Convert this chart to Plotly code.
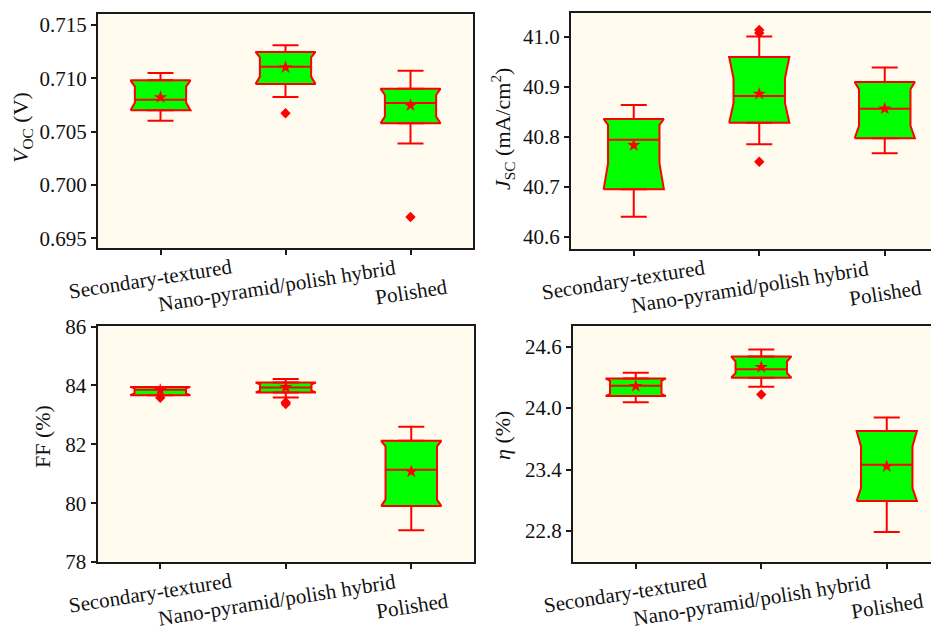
import plotly.graph_objects as go

# ---------------- data ----------------
categories = ["Secondary-textured", "Nano-pyramid/polish hybrid", "Polished"]

voc_q1 = [0.70700, 0.70947, 0.70578]
voc_med = [0.70800, 0.71109, 0.70769]
voc_q3 = [0.70981, 0.71247, 0.70903]
voc_lo = [0.70603, 0.70825, 0.70388]
voc_hi = [0.71050, 0.71309, 0.71072]
voc_mean = [0.70822, 0.71103, 0.70747]
voc_notch_lo = [0.70772, 0.71016, 0.70641]
voc_notch_hi = [0.70922, 0.71197, 0.70844]
voc_out = [[], [0.70672], [0.69700]]

jsc_q1 = [40.695, 40.828, 40.797]
jsc_med = [40.794, 40.8815, 40.856]
jsc_q3 = [40.8356, 40.9594, 40.9095]
jsc_lo = [40.6406, 40.785, 40.767]
jsc_hi = [40.8636, 41.000, 40.938]
jsc_mean = [40.783, 40.8855, 40.856]
jsc_notch_lo = [40.747, 40.867, 40.8216]
jsc_notch_hi = [40.8236, 40.9168, 40.8948]
jsc_out = [[], [41.013, 41.007, 40.750], []]

ff_q1 = [83.67, 83.76, 79.90]
ff_med = [83.85, 83.93, 81.134]
ff_q3 = [83.95, 84.10, 82.12]
ff_lo = [83.67, 83.59, 79.075]
ff_hi = [83.95, 84.22, 82.594]
ff_mean = [83.84, 83.94, 81.07]
ff_notch_lo = [83.73, 83.82, 80.12]
ff_notch_hi = [83.90, 84.04, 81.93]
ff_out = [[83.58], [83.43, 83.37], []]

eta_q1 = [24.116, 24.295, 23.093]
eta_med = [24.217, 24.379, 23.447]
eta_q3 = [24.288, 24.503, 23.775]
eta_lo = [24.057, 24.207, 22.790]
eta_hi = [24.343, 24.571, 23.908]
eta_mean = [24.213, 24.399, 23.430]
eta_notch_lo = [24.139, 24.340, 23.219]
eta_notch_hi = [24.265, 24.454, 23.625]
eta_out = [[], [24.132], []]

# ---------------- style ----------------
OFF = 8                      # page body margin in the browser
W, H = 939 - OFF, 630 - OFF  # figure fills the visible window exactly
RED = "#FF0000"
GREEN = "#00FF00"
BG = "#FFFCEF"
AXC = "#1a1a1a"
FONT = "Liberation Serif"
HALF = 0.24      # box half width (category units)
NARROW = 0.205   # notch half width
CAP = 13         # cap half width (px)


def fx(px):
    return (px - OFF) / W


def fy(py):
    return 1 - (py - OFF) / H


panels = [
    dict(n="", q1=voc_q1, med=voc_med, q3=voc_q3, lo=voc_lo, hi=voc_hi, mean=voc_mean,
         nlo=voc_notch_lo, nhi=voc_notch_hi, out=voc_out,
         xdom=[fx(98), fx(473)], xr=[-0.5, 2.5], ydom=[fy(248), fy(14)],
         yr=[0.69409, 0.71603], tick0=0.695, dtick=0.005, fmt=".3f", mirror=True,
         title="<i>V</i><sub>OC</sub> (V)", tx=22, ty=128),
    dict(n="2", q1=jsc_q1, med=jsc_med, q3=jsc_q3, lo=jsc_lo, hi=jsc_hi, mean=jsc_mean,
         nlo=jsc_notch_lo, nhi=jsc_notch_hi, out=jsc_out,
         xdom=[fx(571), 1.0], xr=[-0.5, -0.5 + (939 - 571) / 125.5], ydom=[fy(249), fy(13)],
         yr=[40.576, 41.047], tick0=40.6, dtick=0.1, fmt=".1f", mirror=False,
         title="<i>J</i><sub>SC</sub> (mA/cm<sup>2</sup>)", tx=503, ty=129),
    dict(n="3", q1=ff_q1, med=ff_med, q3=ff_q3, lo=ff_lo, hi=ff_hi, mean=ff_mean,
         nlo=ff_notch_lo, nhi=ff_notch_hi, out=ff_out,
         xdom=[fx(97.5), fx(474)], xr=[-0.5, 2.5], ydom=[fy(562), fy(326)],
         yr=[78, 86.02], tick0=78, dtick=2, fmt="d", mirror=True,
         title="FF (%)", tx=42, ty=437),
    dict(n="4", q1=eta_q1, med=eta_med, q3=eta_q3, lo=eta_lo, hi=eta_hi, mean=eta_mean,
         nlo=eta_notch_lo, nhi=eta_notch_hi, out=eta_out,
         xdom=[fx(573), 1.0], xr=[-0.5, -0.5 + (939 - 573) / 125.5], ydom=[fy(562), fy(326)],
         yr=[22.498, 24.80], tick0=22.8, dtick=0.6, fmt=".1f", mirror=False,
         title="<i>η</i> (%)", tx=502, ty=436),
]

label_dx = [-10, -9, 1]
label_dy = [31, 38, 44]

fig = go.Figure()
annotations = []
layout_axes = {}

for p in panels:
    xa, ya = "x" + p["n"], "y" + p["n"]
    for i in range(len(categories)):
        # notched box outline
        bx = [i - HALF, i + HALF, i + NARROW, i + NARROW, i + HALF, i - HALF, i - NARROW, i - NARROW, i - HALF]
        by = [p["q1"][i], p["q1"][i], p["nlo"][i], p["nhi"][i], p["q3"][i], p["q3"][i],
              p["nhi"][i], p["nlo"][i], p["q1"][i]]
        fig.add_trace(go.Scatter(x=bx, y=by, mode="lines", fill="toself", fillcolor=GREEN,
                                 line=dict(color=RED, width=2), xaxis=xa, yaxis=ya,
                                 showlegend=False, hoverinfo="skip"))
        # median
        fig.add_trace(go.Scatter(x=[i - NARROW, i + NARROW], y=[p["med"][i]] * 2, mode="lines",
                                 line=dict(color=RED, width=2), xaxis=xa, yaxis=ya,
                                 showlegend=False, hoverinfo="skip"))
    # whiskers with caps
    idx = list(range(len(categories)))
    fig.add_trace(go.Scatter(
        x=idx, y=p["q3"], mode="markers", marker=dict(size=1, opacity=0),
        error_y=dict(type="data", symmetric=False,
                     array=[h - q for h, q in zip(p["hi"], p["q3"])],
                     arrayminus=[0] * 3, color=RED, thickness=2, width=CAP),
        xaxis=xa, yaxis=ya, showlegend=False, hoverinfo="skip"))
    fig.add_trace(go.Scatter(
        x=idx, y=p["q1"], mode="markers", marker=dict(size=1, opacity=0),
        error_y=dict(type="data", symmetric=False, array=[0] * 3,
                     arrayminus=[q - l for q, l in zip(p["q1"], p["lo"])],
                     color=RED, thickness=2, width=CAP),
        xaxis=xa, yaxis=ya, showlegend=False, hoverinfo="skip"))
    # means
    fig.add_trace(go.Scatter(x=idx, y=p["mean"], mode="markers",
                             marker=dict(symbol="star", size=10, color=RED),
                             xaxis=xa, yaxis=ya, showlegend=False))
    # outliers
    ox, oy = [], []
    for i, vals in enumerate(p["out"]):
        for v in vals:
            ox.append(i)
            oy.append(v)
    fig.add_trace(go.Scatter(x=ox, y=oy, mode="markers",
                             marker=dict(symbol="diamond", size=8, color=RED),
                             xaxis=xa, yaxis=ya, showlegend=False))

    xkey = "xaxis" + p["n"]
    ykey = "yaxis" + p["n"]
    layout_axes[xkey] = dict(domain=p["xdom"], range=p["xr"], anchor=ya, tickvals=idx,
                             showticklabels=False, ticks="outside", ticklen=5, tickwidth=2,
                             tickcolor=AXC, showline=True, linecolor=AXC, linewidth=2,
                             mirror=True, showgrid=False, zeroline=False, automargin=False)
    layout_axes[ykey] = dict(domain=p["ydom"], range=p["yr"], anchor=xa, tick0=p["tick0"],
                             dtick=p["dtick"], tickformat=p["fmt"], ticks="outside", ticklen=5,
                             tickwidth=2, tickcolor=AXC, showline=True, linecolor=AXC,
                             linewidth=2, mirror=p["mirror"], showgrid=False, zeroline=False,
                             automargin=False,
                             tickfont=dict(family=FONT, size=21, color="#111"))
    # category labels
    for i, cat in enumerate(categories):
        annotations.append(dict(text=cat, x=i, xref=xa, y=p["ydom"][0] - label_dy[i] / H,
                                yref="paper", xshift=label_dx[i], textangle=-9, showarrow=False,
                                xanchor="center", yanchor="middle",
                                font=dict(family=FONT, size=21, color="#111")))
    # y title
    annotations.append(dict(text=p["title"], x=fx(p["tx"]), y=fy(p["ty"]), xref="paper",
                            yref="paper", textangle=-90, showarrow=False, xanchor="center",
                            yanchor="middle", font=dict(family=FONT, size=22, color="#111")))

fig.update_layout(width=W, height=H,
                  margin=dict(l=0, r=0, t=0, b=0, pad=0, autoexpand=False),
                  paper_bgcolor="white", plot_bgcolor=BG, annotations=annotations,
                  showlegend=False, **layout_axes)

fig.write_html("out.html")
